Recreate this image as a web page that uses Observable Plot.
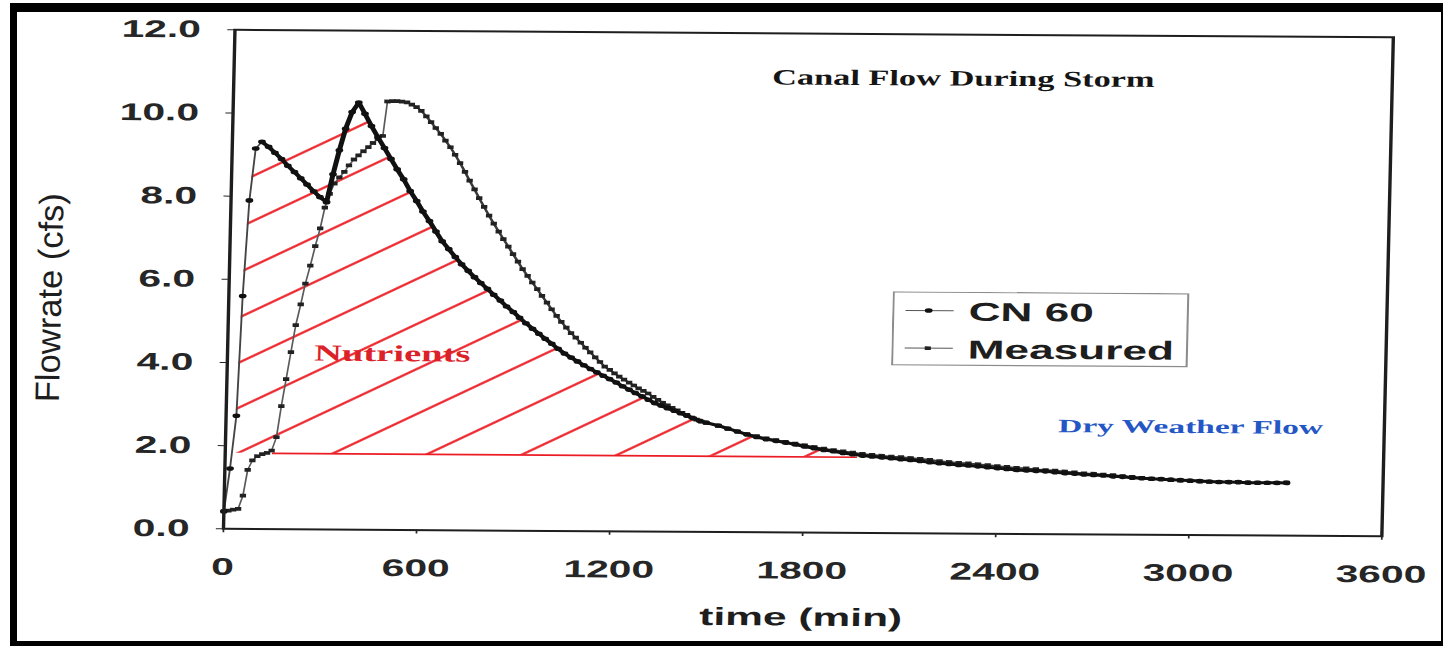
<!DOCTYPE html>
<html>
<head>
<meta charset="utf-8">
<script src="https://cdn.jsdelivr.net/npm/d3@7"></script>
<script src="https://cdn.jsdelivr.net/npm/@observablehq/plot@0.6"></script>
<style>
html, body { margin: 0; padding: 0; background: #fff; overflow: hidden; }
#page { position: relative; width: 1443px; height: 646px; overflow: hidden; background: #fff; }
#chart { position: absolute; left: 0; top: 0; width: 849px; height: 646px;
  transform-origin: 0 0; transform: matrix(1.6996, 0.011047, -0.023, 1, 12.15, -1.4476); }
#chart svg { display: block; }
#border { position: absolute; left: 10px; top: 3px; width: 1433px; height: 643px; box-sizing: border-box;
  border-style: solid; border-color: #000; border-width: 9px 2px 5px 7px; pointer-events: none; }
</style>
</head>
<body>
<div id="page"><div id="chart"></div><div id="border"></div></div>
<script>
// ---------- data (time in min, flow in cfs) ----------
const seriesNames = ["CN 60", "Measured"];

const cn60 = [
[0,0.42],[16,1.45],[32,2.72],[43,5.60],[57,7.90],[73,9.15],[92,9.31],[113,9.19],[133,9.05],[154,8.90],
[174,8.74],[195,8.59],[215,8.44],[235,8.29],[256,8.13],[276,7.99],[297,7.87],[315,8.54],[333,9.12],[351,9.64],
[370,10.04],[390,10.27],[410,10.00],[431,9.71],[452,9.44],[473,9.18],[494,8.92],[514,8.67],[535,8.43],[556,8.15],
[577,7.91],[597,7.66],[618,7.43],[639,7.18],[659,6.95],[680,6.76],[701,6.57],[721,6.40],[742,6.24],[762,6.09],
[782,5.95],[803,5.81],[823,5.67],[844,5.53],[864,5.39],[885,5.26],[905,5.12],[925,4.99],[946,4.86],[966,4.74],
[986,4.62],[1007,4.50],[1027,4.38],[1047,4.27],[1068,4.17],[1088,4.08],[1108,3.99],[1129,3.90],[1149,3.82],[1169,3.74],
[1189,3.66],[1210,3.58],[1230,3.49],[1250,3.41],[1270,3.33],[1291,3.25],[1311,3.17],[1331,3.09],[1351,3.03],[1371,2.97],
[1392,2.91],[1412,2.85],[1432,2.79],[1452,2.73],[1472,2.67],[1492,2.63],
[1530,2.56],[1560,2.49],[1590,2.42],[1620,2.35],[1650,2.29],[1680,2.24],[1710,2.20],[1740,2.16],[1770,2.12],[1800,2.07],
[1830,2.03],[1860,1.99],[1890,1.96],[1920,1.92],[1950,1.89],[1980,1.86],[2010,1.84],[2040,1.82],[2070,1.80],[2100,1.78],
[2130,1.76],[2160,1.74],[2190,1.71],[2220,1.69],[2250,1.67],[2280,1.65],[2310,1.64],[2340,1.62],[2370,1.60],[2400,1.58],
[2430,1.56],[2460,1.54],[2490,1.53],[2520,1.52],[2550,1.51],[2580,1.49],[2610,1.47],[2640,1.46],[2670,1.44],[2700,1.43],
[2730,1.42],[2760,1.40],[2790,1.39],[2820,1.37],[2850,1.36],[2880,1.35],[2910,1.34],[2940,1.33],[2970,1.32],[3000,1.31],
[3030,1.30],[3060,1.29],[3090,1.28],[3120,1.28],[3150,1.28],[3180,1.27],[3210,1.27],[3240,1.27],[3270,1.27],[3300,1.27]
];

const measured = [
[0,0.42],[14,0.44],[29,0.46],[44,0.48],[58,0.80],[71,1.42],[85,1.65],[100,1.75],[115,1.80],[130,1.83],
[144,1.89],[158,2.21],[171,2.96],[184,3.61],[197,4.26],[210,4.91],[224,5.41],[237,5.91],[251,6.34],[265,6.81],
[279,7.24],[292,7.74],[306,8.07],[320,8.32],[335,8.47],[350,8.60],[364,8.76],[379,8.90],[393,9.00],[408,9.10],
[423,9.20],[437,9.30],[452,9.40],[467,9.47],[479,10.30],[494,10.31],[509,10.31],[524,10.30],[540,10.28],[555,10.23],
[570,10.17],[585,10.08],[601,9.95],[616,9.81],[631,9.67],[647,9.53],[662,9.37],[678,9.21],[693,9.03],[709,8.83],
[725,8.62],[740,8.41],[756,8.20],[771,7.99],[787,7.78],[803,7.57],[818,7.38],[834,7.19],[849,7.01],[865,6.83],
[880,6.65],[896,6.47],[911,6.29],[927,6.13],[942,5.97],[958,5.81],[973,5.65],[989,5.49],[1004,5.33],[1020,5.17],
[1035,5.03],[1051,4.89],[1066,4.76],[1081,4.65],[1097,4.53],[1112,4.41],[1127,4.30],[1143,4.18],[1158,4.07],[1173,3.96],
[1189,3.88],[1204,3.80],[1219,3.72],[1234,3.65],[1250,3.58],[1265,3.51],[1280,3.44],[1295,3.38],[1310,3.32],[1326,3.24],
[1341,3.17],[1356,3.10],[1371,3.04],[1386,2.98],[1402,2.92],[1417,2.86],[1432,2.81],[1447,2.75],[1462,2.70],[1477,2.65],
[1492,2.62],
[1530,2.55],[1560,2.48],[1590,2.42],[1620,2.36],[1650,2.31],[1680,2.26],[1710,2.22],[1740,2.18],[1770,2.14],[1800,2.10],
[1830,2.06],[1860,2.02],[1890,1.99],[1920,1.96],[1950,1.93],[1980,1.90],[2010,1.88],[2040,1.86],[2070,1.84],[2100,1.83],
[2130,1.81],[2160,1.79],[2190,1.77],[2220,1.74],[2250,1.72],[2280,1.70],[2310,1.69],[2340,1.67],[2370,1.65],[2400,1.63],
[2430,1.61],[2460,1.59],[2490,1.58],[2520,1.56],[2550,1.54],[2580,1.53],[2610,1.51],[2640,1.49],[2670,1.47],[2700,1.46],
[2730,1.44],[2760,1.43],[2790,1.41],[2820,1.39],[2850,1.37],[2880,1.35],[2910,1.34],[2940,1.32],[2970,1.31],[3000,1.30],
[3030,1.29],[3060,1.28],[3090,1.28],[3120,1.28],[3150,1.28],[3180,1.27],[3210,1.27],[3240,1.27],[3270,1.27],[3300,1.28]
];

const dryWeatherFlow = 1.82;          // cfs, base of the nutrient area
const dryWeatherSpan = [148, 1966];   // min, extent of the base line

const xTicks = [0, 600, 1200, 1800, 2400, 3000, 3600];
const yTicks = [0, 2, 4, 6, 8, 10, 12];

const annotationLabels = ["Canal Flow During Storm", "Nutrients", "Dry Weather Flow"];
const annotationTimes = [2267, 512, 2998];
const annotationFlows = [10.94, 4.235, 2.60];

const xLabel = "time (min)";
const yLabel = "Flowrate (cfs)";

// ---------- styles ----------
const RED = "#ec1c24";
const BLUE = "#2457c5";
const INK = "#1e1e1e";
const SANS = "'Liberation Sans', Arial, sans-serif";
const SERIF = "'Liberation Serif', 'Times New Roman', serif";
const textLengths = {"Canal Flow During Storm": 225, "Nutrients": 92, "Dry Weather Flow": 156, "Flowrate (cfs)": 209};

// ---------- derived tables ----------
const cnRows = cn60.map(([t, v]) => ({t, v}));
const msRows = measured.map(([t, v]) => ({t, v}));

// nutrient area: CN 60 curve above dry-weather flow, bridged across the dip between its two peaks
const iPeak2 = d3.maxIndex(cnRows, d => d.v);
let iPeak1 = 0;
for (let i = 1; i < iPeak2; i++) {
  if (cnRows[i].v >= cnRows[i - 1].v && cnRows[i].v >= cnRows[i + 1].v) { iPeak1 = i; break; }
}
let iEnd = cnRows.length - 1;
for (let i = iPeak2; i < cnRows.length; i++) { if (cnRows[i].v <= dryWeatherFlow) { iEnd = i; break; } }
const hatchRows = cnRows
  .filter((d, i) => (i <= iPeak1 || i >= iPeak2) && i <= iEnd)
  .map(d => ({t: d.t, lo: dryWeatherFlow, hi: Math.max(d.v, dryWeatherFlow)}));

// measured: the part after the jump to the flat top is drawn heavier
const iJump = d3.maxIndex(msRows, d => d.v) - 1;

const ann = annotationLabels.map((label, i) => ({label, t: annotationTimes[i], v: annotationFlows[i]}));

const plot = Plot.plot({
  width: 849,
  height: 646,
  marginLeft: 131,
  marginRight: 36.45,
  marginTop: 29.3,
  marginBottom: 117.7,
  style: {fontFamily: SANS, background: "transparent", color: "#262626", overflow: "visible"},
  x: {domain: [0, 3600]},
  y: {domain: [0, 12]},
  marks: [
    Plot.areaY(hatchRows, {x: "t", y1: "lo", y2: "hi", fill: "url(#nutrientHatch)"}),
    Plot.ruleY([dryWeatherFlow], {x1: dryWeatherSpan[0], x2: dryWeatherSpan[1], stroke: RED, strokeWidth: 1.7}),
    Plot.text([ann[0]], {x: "t", y: "v", text: "label", fontFamily: SERIF, fontWeight: "bold", fontSize: 22, fill: "#151515", lineAnchor: "middle"}),
    Plot.text([ann[1]], {x: "t", y: "v", text: "label", fontFamily: SERIF, fontWeight: "bold", fontSize: 23, fill: "#dc2229", lineAnchor: "middle"}),
    Plot.text([ann[2]], {x: "t", y: "v", text: "label", fontFamily: SERIF, fontWeight: "bold", fontSize: 19, fill: BLUE, lineAnchor: "middle"}),
    // Measured
    Plot.line(msRows, {x: "t", y: "v", stroke: "#5a5a5a", strokeWidth: 1}),
    Plot.line(msRows.slice(iJump + 1), {x: "t", y: "v", stroke: "#3a3a3a", strokeWidth: 1.6}),
    Plot.dot(msRows, {x: "t", y: "v", symbol: "square", r: 2.1, fill: "#222"}),
    // CN 60
    Plot.line(cnRows, {x: "t", y: "v", stroke: "#444", strokeWidth: 1.1}),
    Plot.line(cnRows.slice(iPeak1), {x: "t", y: "v", stroke: "#111", strokeWidth: 3}),
    Plot.dot(cnRows, {x: "t", y: "v", r: 2.3, fill: "#111"}),
    // frame & axes
    Plot.frame({stroke: INK, strokeWidth: 2}),
    Plot.axisX({ticks: xTicks, tickFormat: d => String(d), tickSize: 4, tickPadding: 25, fontSize: 24, fontWeight: "bold", label: null}),
    Plot.axisY({ticks: yTicks, tickFormat: d3.format(".1f"), tickSize: 4, tickPadding: 16, fontSize: 24, fontWeight: "bold", label: null}),
    Plot.text([xLabel], {frameAnchor: "bottom", dy: 85, text: d => d, lineAnchor: "middle", fontSize: 25, fontWeight: "bold", fill: INK}),
    Plot.text([yLabel], {frameAnchor: "left", rotate: -90, dx: -105, dy: 124, text: d => d, textAnchor: "start", lineAnchor: "middle", fontSize: 20, fill: INK})
  ]
});

// hatch pattern for the nutrient area
const NS = "http://www.w3.org/2000/svg";
const px = plot.scale("x").apply(338), py = plot.scale("y").apply(dryWeatherFlow);
const defs = document.createElementNS(NS, "defs");
const pat = document.createElementNS(NS, "pattern");
pat.setAttribute("id", "nutrientHatch");
pat.setAttribute("patternUnits", "userSpaceOnUse");
pat.setAttribute("width", 60);
pat.setAttribute("height", 35.2);
pat.setAttribute("patternTransform", `translate(${px},${py}) rotate(-39.3) translate(0,-17.6)`);
const hl = document.createElementNS(NS, "line");
hl.setAttribute("x1", 0); hl.setAttribute("x2", 60);
hl.setAttribute("y1", 17.6); hl.setAttribute("y2", 17.6);
hl.setAttribute("stroke", RED); hl.setAttribute("stroke-width", 2);
pat.appendChild(hl); defs.appendChild(pat);
plot.insertBefore(defs, plot.firstChild);

// fit stretched annotation texts
d3.select(plot).selectAll("text").each(function () {
  const s = this.textContent;
  if (textLengths[s]) {
    this.setAttribute("textLength", textLengths[s]);
    this.setAttribute("lengthAdjust", "spacingAndGlyphs");
  }
});

const chart = document.getElementById("chart");
chart.appendChild(plot);

// legend
const legend = d3.create("svg")
  .attr("width", 175).attr("height", 75)
  .style("position", "absolute").style("left", "521.9px").style("top", "287.4px");
legend.append("rect").attr("x", 0.6).attr("y", 0.6).attr("width", 173.3).attr("height", 72.8)
  .attr("fill", "#fff").attr("stroke", "#8c8c8c").attr("stroke-width", 1.2);
const rowsY = [19, 56.6];
seriesNames.forEach((name, i) => {
  const g = legend.append("g");
  g.append("line").attr("x1", 7.8).attr("x2", 36.1).attr("y1", rowsY[i]).attr("y2", rowsY[i])
    .attr("stroke", "#555").attr("stroke-width", 1);
  if (i === 0) g.append("circle").attr("cx", 21.4).attr("cy", rowsY[i]).attr("r", 2.3).attr("fill", "#111");
  else g.append("rect").attr("x", 21.4 - 1.8).attr("y", rowsY[i] - 1.8).attr("width", 3.6).attr("height", 3.6).attr("fill", "#222");
  g.append("text").attr("x", 44.9).attr("y", rowsY[i] + 10)
    .attr("font-family", SANS).attr("font-weight", "bold").attr("font-size", 26).attr("fill", INK)
    .text(name);
});
chart.appendChild(legend.node());
</script>
</body>
</html>
